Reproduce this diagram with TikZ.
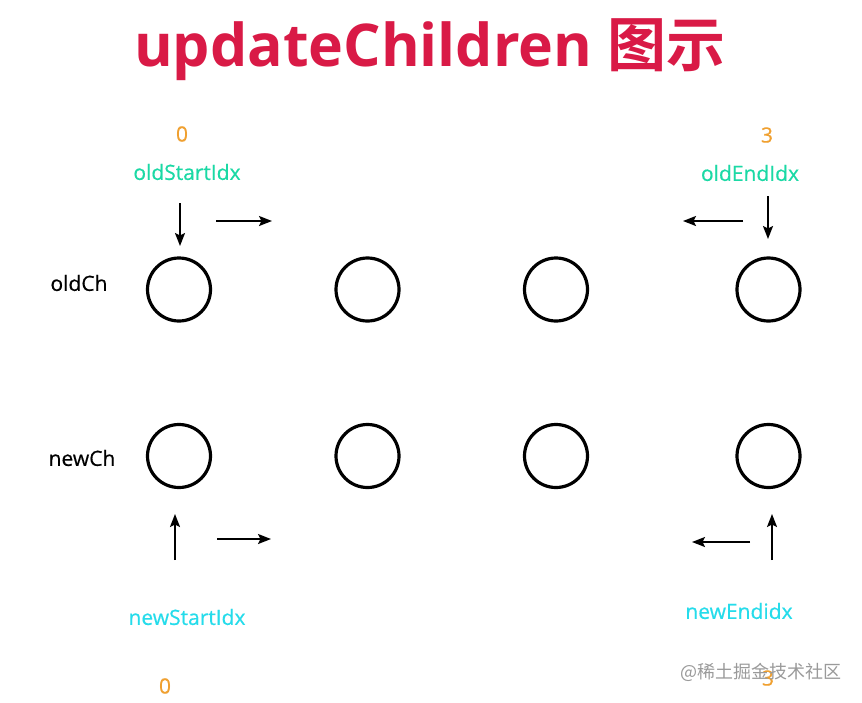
\documentclass[tikz,border=0pt]{standalone}
\usepackage{fontspec}
\setmainfont{Open Sans}
\newfontfamily\lblfont{Open Sans}[FakeBold=0.5]
\newfontfamily\titlelatin{Open Sans}[UprightFont=* Bold]
\newfontfamily\cjk{Noto Sans CJK SC}
\newfontfamily\cjkbold{Noto Sans CJK SC}[UprightFont=* Bold]
\usetikzlibrary{arrows.meta}
\definecolor{titlered}{HTML}{D91A46}
\definecolor{numorange}{HTML}{F0A030}
\definecolor{oldgreen}{HTML}{1BD9A5}
\definecolor{newcyan}{HTML}{25DCEB}
\definecolor{wmgray}{HTML}{9A9A9A}
\begin{document}
\begin{tikzpicture}[x=1pt,y=-1pt,
  child/.style={circle,draw,line width=3.2pt,minimum size=63pt,inner sep=0pt},
  lbl/.style={font=\lblfont\fontsize{21}{24}\selectfont,inner sep=0pt},
  num/.style={lbl,text=numorange},
  oldlbl/.style={lbl,text=oldgreen},
  newlbl/.style={lbl,text=newcyan},
  ptr/.style={line width=2pt,-{Stealth[length=13pt,width=10pt,inset=2.5pt]}}]
\fill[white] (0,0) rectangle (862,702);
\useasboundingbox (0,0) rectangle (862,702);
% title
\node[text=titlered,inner sep=0pt,anchor=base] (title) at (430,66)
  {\fontsize{59}{62}\selectfont\titlelatin updateChildren \cjkbold 图示};
% row labels
\node[lbl] (oldch) at (79,283) {oldCh};
\node[lbl] (newch) at (82,458) {newCh};
% children
\node[child] (o1) at (179,289.5) {};
\node[child] (o2) at (367.5,289.5) {};
\node[child] (o3) at (556,289.5) {};
\node[child] (o4) at (768.5,289.5) {};
\node[child] (n1) at (179,456) {};
\node[child] (n2) at (367.5,456) {};
\node[child] (n3) at (556,456) {};
\node[child] (n4) at (768.5,456) {};
% top labels
\node[num] (os0) at (182,134) {0};
\node[oldlbl] (osi) at (187,172) {oldStartIdx};
\node[num] (oe3) at (767,135) {3};
\node[oldlbl] (oei) at (750,173) {oldEndIdx};
% bottom labels
\node[newlbl] (nsi) at (187,617) {newStartIdx};
\node[num] (ns0) at (165,686) {0};
\node[newlbl] (nei) at (739,611) {newEndidx};
\node[num] (ne3) at (768,678) {3};
% arrow end points
\coordinate (a1s) at (180,203); \coordinate (a1e) at (180,246);
\coordinate (a2s) at (216,221); \coordinate (a2e) at (272,221);
\coordinate (a3s) at (768,196); \coordinate (a3e) at (768,239);
\coordinate (a4s) at (743,221); \coordinate (a4e) at (683,221);
\coordinate (b1s) at (175,560); \coordinate (b1e) at (175,514);
\coordinate (b2s) at (217,539); \coordinate (b2e) at (271,539);
\coordinate (b3s) at (772,560); \coordinate (b3e) at (772,514);
\coordinate (b4s) at (750,542); \coordinate (b4e) at (692,542);
\draw[ptr] (a1s) -- (a1e);
\draw[ptr] (a2s) -- (a2e);
\draw[ptr] (a3s) -- (a3e);
\draw[ptr] (a4s) -- (a4e);
\draw[ptr] (b1s) -- (b1e);
\draw[ptr] (b2s) -- (b2e);
\draw[ptr] (b3s) -- (b3e);
\draw[ptr] (b4s) -- (b4e);
% watermark
\node[text=wmgray,inner sep=0pt] (wm) at (761,672) {\fontsize{18}{20}\selectfont\cjk @稀土掘金技术社区};
\end{tikzpicture}
\end{document}
